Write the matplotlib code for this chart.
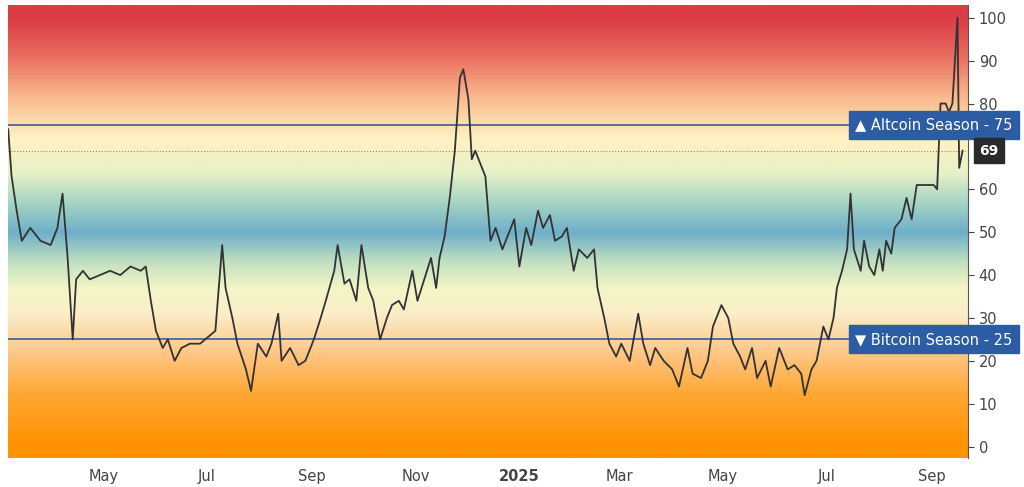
import matplotlib
matplotlib.use("Agg")
import matplotlib.pyplot as plt
import numpy as np
import pandas as pd
from matplotlib.colors import LinearSegmentedColormap

start = pd.Timestamp("2024-03-06")
day_offsets = [0,2,5,8,13,19,25,29,32,35,38,40,44,48,54,60,66,72,78,81,84,87,91,94,98,102,107,113,119,122,126,128,132,135,140,143,147,152,155,159,161,166,171,175,180,184,187,192,194,198,201,205,208,212,215,219,223,226,230,233,238,241,245,249,252,254,257,260,263,266,268,271,273,275,278,281,284,287,291,294,298,301,305,308,312,315,319,322,326,329,333,336,341,345,347,351,354,358,361,366,371,374,378,381,386,391,395,400,403,408,412,415,420,424,427,431,434,438,441,446,449,454,459,463,467,469,473,476,480,483,486,488,491,494,496,498,502,504,507,510,513,515,517,520,522,526,529,532,535,540,545,547,549,552,554,556,559,560,562]
values = [74,63,55,48,51,48,47,51,59,44,25,39,41,39,40,41,40,42,41,42,34,27,23,25,20,23,24,24,26,27,47,37,30,24,18,13,24,21,24,31,20,23,19,20,25,30,34,41,47,38,39,34,47,37,34,25,30,33,34,32,41,34,39,44,37,44,49,58,69,86,88,81,67,69,66,63,48,51,46,49,53,42,51,47,55,51,54,48,49,51,41,46,44,46,37,30,24,21,24,20,31,24,19,23,20,18,14,23,17,16,20,28,33,30,24,21,18,23,16,20,14,23,18,19,17,12,18,20,28,25,30,37,41,46,59,46,41,48,42,40,46,41,48,45,51,53,58,53,61,61,61,60,80,80,78,80,100,65,69]
n = min(len(day_offsets), len(values))
dates = start + pd.to_timedelta(day_offsets[:n], unit="D")
vals = values[:n]

tick_dates = ["2024-05-01","2024-07-01","2024-09-01","2024-11-01","2025-01-01","2025-03-01","2025-05-01","2025-07-01","2025-09-01"]
tick_labels = ["May","Jul","Sep","Nov","2025","Mar","May","Jul","Sep"]
y_ticks = [0,10,20,30,40,50,60,70,80,90,100]

fig = plt.figure(figsize=(10.24,4.87), dpi=100)
ax = fig.add_axes([0.008, 0.06, 0.937, 0.93])
ymin, ymax = -2.6, 103
xmin = start - pd.Timedelta(days=0)
xmax = start + pd.Timedelta(days=565)

cmap = LinearSegmentedColormap.from_list("season", [
    (0.0, "#ff9200"), (0.12, "#ffa733"), (0.22, "#fdc889"), (0.31, "#fbeec8"),
    (0.37, "#f4f6c6"), (0.43, "#c2e0c0"), (0.50, "#6fafc9"), (0.57, "#a6d4c4"),
    (0.64, "#e8f2c8"), (0.72, "#fff1c2"), (0.82, "#f9b88b"), (0.91, "#ea6f62"),
    (1.0, "#dc3c46")])
grad = np.linspace(ymin, ymax, 400).reshape(-1, 1)
ax.imshow((grad - 0) / 100.0, aspect="auto", cmap=cmap, origin="lower", vmin=0, vmax=1,
          extent=[matplotlib.dates.date2num(xmin), matplotlib.dates.date2num(xmax), ymin, ymax], zorder=0)

ax.axhline(75, color="#3d5e98", lw=1.2, zorder=2)
ax.axhline(25, color="#3d5e98", lw=1.2, zorder=2)
ax.axhline(69, color="#777755", lw=0.7, ls=(0,(1,2)), zorder=2)
ax.plot(dates, vals, color="#333333", lw=1.3, zorder=3)

ax.set_xlim(matplotlib.dates.date2num(xmin), matplotlib.dates.date2num(xmax))
ax.set_ylim(ymin, ymax)
ax.yaxis.tick_right()
ax.set_yticks([t for t in y_ticks if t != 70])
ax.tick_params(axis="y", colors="#444444", labelsize=10.5, length=4, pad=4)
ax.set_xticks(pd.to_datetime(tick_dates))
ax.set_xticklabels(tick_labels)
ax.tick_params(axis="x", colors="#444444", labelsize=10.5, length=0, pad=8)
ax.get_xticklabels()[4].set_fontweight("bold")
for s in ["top","left","bottom"]:
    ax.spines[s].set_visible(False)
ax.spines["right"].set_color("#555555")

box = dict(boxstyle="square,pad=0.45", fc="#2b5ca4", ec="#2b5ca4")
ax.text(0.883, 75, "▲ Altcoin Season - 75", transform=ax.get_yaxis_transform(), color="white",
        fontsize=10.5, va="center", ha="left", bbox=box, zorder=5, clip_on=False)
ax.text(0.883, 25, "▼ Bitcoin Season - 25", transform=ax.get_yaxis_transform(), color="white",
        fontsize=10.5, va="center", ha="left", bbox=box, zorder=5, clip_on=False)
ax.text(1.012, 69, "69", transform=ax.get_yaxis_transform(), color="white", fontsize=10,
        fontweight="bold", va="center", ha="left",
        bbox=dict(boxstyle="square,pad=0.4", fc="#2a2a2a", ec="#2a2a2a"), zorder=6, clip_on=False)
fig.savefig("out.png", dpi=100)
